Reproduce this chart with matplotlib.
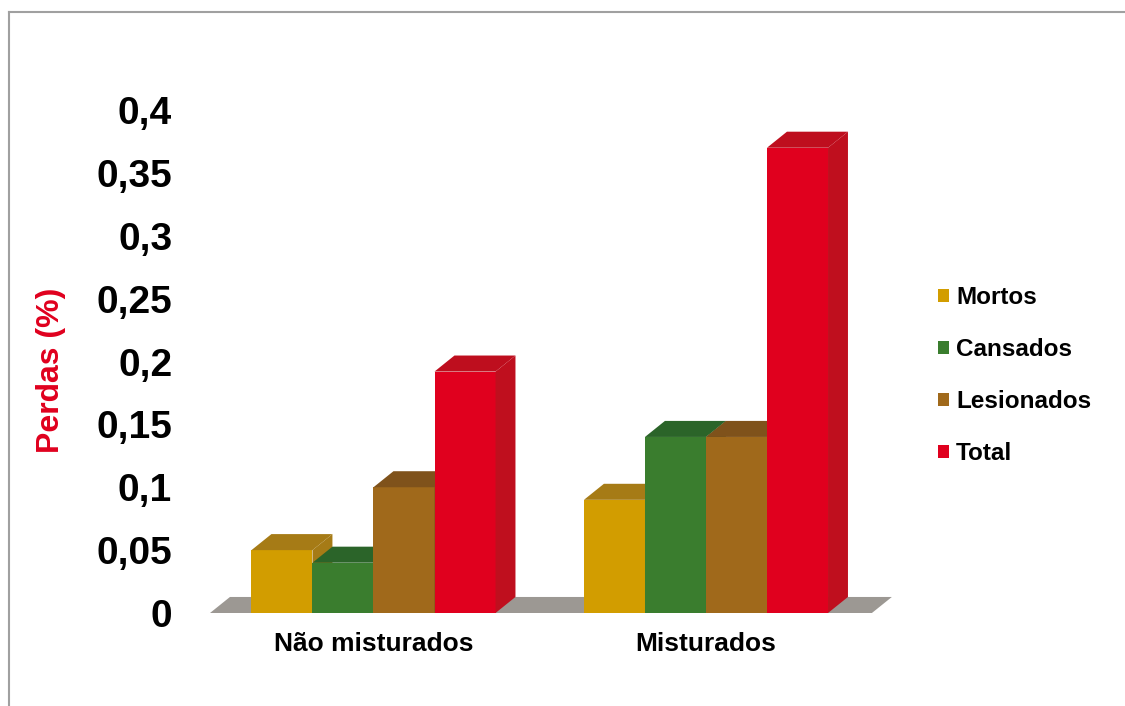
import numpy as np
import matplotlib
matplotlib.use("Agg")
import matplotlib.pyplot as plt
from matplotlib.patches import Polygon, Patch
from matplotlib.lines import Line2D

plt.rcParams['font.family'] = ['Liberation Sans', 'DejaVu Sans']

categories = ["Não misturados", "Misturados"]
series = ["Mortos", "Cansados", "Lesionados", "Total"]
mortos = [0.05, 0.09]
cansados = [0.04, 0.14]
lesionados = [0.10, 0.14]
total = [0.192, 0.37]
yticks = [0, 0.05, 0.1, 0.15, 0.2, 0.25, 0.3, 0.35, 0.4]
ytick_labels = ["0", "0,05", "0,1", "0,15", "0,2", "0,25", "0,3", "0,35", "0,4"]

front_colors = ["#D29D00", "#3A7D2E", "#A0691B", "#E0001E"]
top_colors = ["#A67B16", "#2B6429", "#7F521B", "#BE0E1E"]
side_colors = ["#A67B16", "#2B6429", "#7F521B", "#BF0F1E"]

fig = plt.figure(figsize=(11.25, 7.06), dpi=100)
ax = fig.add_axes([200 / 1125, 93 / 706, 700 / 1125, 503 / 706])
ax.set_xlim(-0.5218, 1.5835)
ax.set_ylim(0, 0.4)

w = 0.1835   # bar width
dx = 0.060   # depth offset
dy = 0.01275

# floor
fl, fr = -0.4917, 1.499
ax.add_patch(Polygon([(fl, 0), (fr, 0), (fr + dx, dy), (fl + dx, dy)],
                     closed=True, facecolor="#9C9893", edgecolor="none", clip_on=False))

values = [mortos, cansados, lesionados, total]
x = np.arange(len(categories))
for ci in range(len(categories)):
    start = x[ci] - 2 * w
    for si, vals in enumerate(values):
        x0 = start + si * w
        h = vals[ci]
        ax.add_patch(Polygon([(x0, 0), (x0 + w, 0), (x0 + w, h), (x0, h)],
                             closed=True, facecolor=front_colors[si], edgecolor="none", clip_on=False))
        ax.add_patch(Polygon([(x0, h), (x0 + w, h), (x0 + w + dx, h + dy), (x0 + dx, h + dy)],
                             closed=True, facecolor=top_colors[si], edgecolor="none", clip_on=False))
        ax.add_patch(Polygon([(x0 + w, 0), (x0 + w + dx, dy), (x0 + w + dx, h + dy), (x0 + w, h)],
                             closed=True, facecolor=side_colors[si], edgecolor="none", clip_on=False))

for s in ax.spines.values():
    s.set_visible(False)
ax.set_yticks(yticks)
ax.set_yticklabels(ytick_labels, fontsize=28, fontweight="bold")
ax.set_xticks(x)
ax.set_xticklabels(categories, fontsize=19, fontweight="bold")
ax.tick_params(axis="y", length=0, pad=20)
ax.tick_params(axis="x", length=0, pad=14)
ax.set_ylabel("Perdas (%)", color="#E0001E", fontsize=23, fontweight="bold")
ax.yaxis.set_label_coords(-0.191, 0.483)

handles = [Patch(facecolor=c, edgecolor="none") for c in front_colors]
leg = ax.legend(handles, series, loc="center left", bbox_to_anchor=(938 / 1125, 0.468),
                bbox_transform=fig.transFigure, frameon=False, borderpad=0, borderaxespad=0,
                handlelength=0.45, handleheight=0.45, handletextpad=0.3, labelspacing=1.2,
                prop={"size": 17.5, "weight": "bold"})

# outer frame lines (top and left)
fig.add_artist(Line2D([9 / 1125, 1.0], [1 - 12 / 706, 1 - 12 / 706], color="#A0A0A0", lw=1.5))
fig.add_artist(Line2D([9 / 1125, 9 / 1125], [0, 1 - 12 / 706], color="#A0A0A0", lw=1.5))

fig.savefig("out.png", dpi=100)
